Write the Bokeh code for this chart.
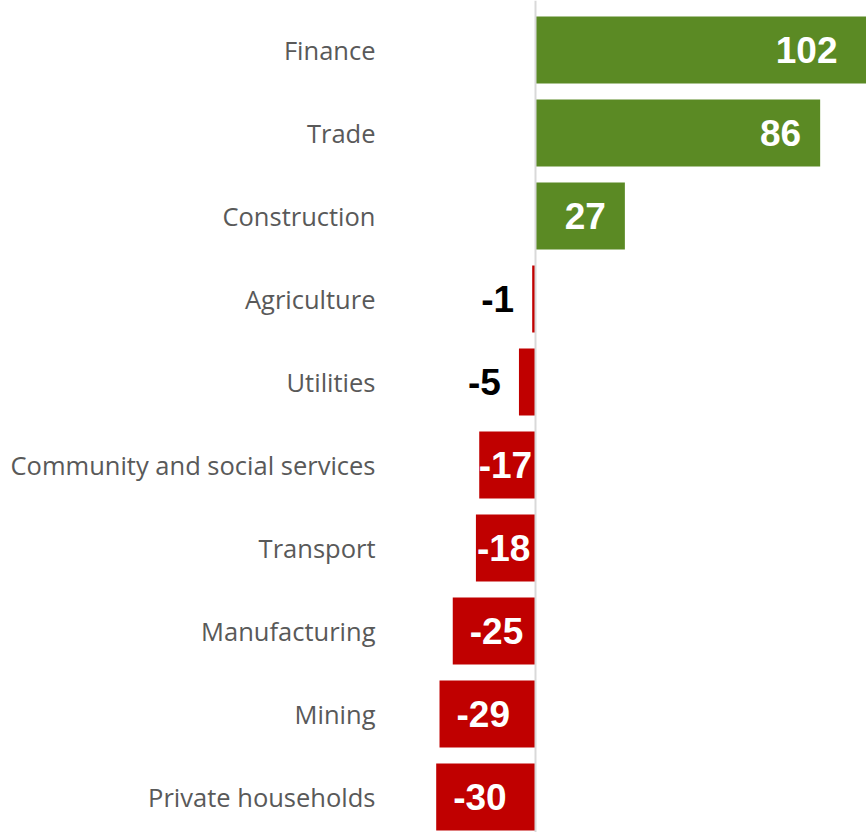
from bokeh.plotting import figure
from bokeh.models import ColumnDataSource, Range1d, Span
from bokeh.core.properties import value
from bokeh.embed import file_html
from bokeh.resources import INLINE

categories = ["Finance", "Trade", "Construction", "Agriculture", "Utilities",
              "Community and social services", "Transport", "Manufacturing",
              "Mining", "Private households"]
values = [102, 86, 27, -1, -5, -17, -18, -25, -29, -30]

GREEN = "#5B8A24"
RED = "#C00000"
W, H = 866, 832
SCALE = 3.31          # px per unit
ZERO_PX = 535         # zero position inside the figure
PITCH = 83.0          # px per row
FIRST_ROW_PX = 49.5

x_start = -ZERO_PX / SCALE
x_end = (W - ZERO_PX) / SCALE
y_end = -FIRST_ROW_PX / PITCH
y_start = y_end + H / PITCH

rows = list(range(len(categories)))
colors = [GREEN if v > 0 else RED for v in values]

p = figure(width=W, height=H, output_backend="svg", toolbar_location=None,
           x_range=Range1d(x_start, x_end), y_range=Range1d(y_start, y_end),
           min_border=0, min_border_left=0, min_border_right=0,
           min_border_top=0, min_border_bottom=0)
p.axis.visible = False
p.xgrid.visible = False
p.ygrid.visible = False
p.outline_line_color = None
p.background_fill_color = "white"
p.border_fill_color = "white"

bars = ColumnDataSource(dict(y=rows, v=values, c=colors))
p.hbar(y="y", left=0, right="v", height=0.807, fill_color="c",
       line_color=None, source=bars)

p.add_layout(Span(location=0, dimension="height", line_color="#D9D9D9",
                  line_width=2))

# category labels
cat_src = ColumnDataSource(dict(x=[0] * len(categories), y=rows, t=categories))
p.text(x="x", y="y", text="t", source=cat_src, x_offset=-160,
       text_align="right", text_baseline="middle",
       text_font=value("Open Sans"), text_font_size="25.5px",
       text_color="#595959")

# value labels
clip_edge = x_end - 10 / SCALE
pos_x, pos_y, pos_t = [], [], []
neg_x, neg_y, neg_t = [], [], []
mid_x, mid_y, mid_t = [], [], []
out_x, out_y, out_t = [], [], []
for r, v in zip(rows, values):
    s = str(v)
    if v > 0:
        pos_x.append(min(v, clip_edge)); pos_y.append(r); pos_t.append(s)
    elif v <= -20:
        neg_x.append(v); neg_y.append(r); neg_t.append(s)
    elif v <= -10:
        mid_x.append(v / 2); mid_y.append(r); mid_t.append(s)
    else:
        out_x.append(v); out_y.append(r); out_t.append(s)

common = dict(text_baseline="middle", text_font=value("Liberation Sans"),
              text_font_size="37px", text_font_style="bold")
p.text(x="x", y="y", text="t", source=ColumnDataSource(dict(x=pos_x, y=pos_y, t=pos_t)),
       x_offset=-19, text_align="right", text_color="white", **common)
p.text(x="x", y="y", text="t", source=ColumnDataSource(dict(x=neg_x, y=neg_y, t=neg_t)),
       x_offset=17, text_align="left", text_color="white", **common)
p.text(x="x", y="y", text="t", source=ColumnDataSource(dict(x=mid_x, y=mid_y, t=mid_t)),
       x_offset=-2, text_align="center", text_color="white", **common)
p.text(x="x", y="y", text="t", source=ColumnDataSource(dict(x=out_x, y=out_y, t=out_t)),
       x_offset=-18, text_align="right", text_color="black", **common)

open("out.html", "w").write(file_html(p, INLINE))
